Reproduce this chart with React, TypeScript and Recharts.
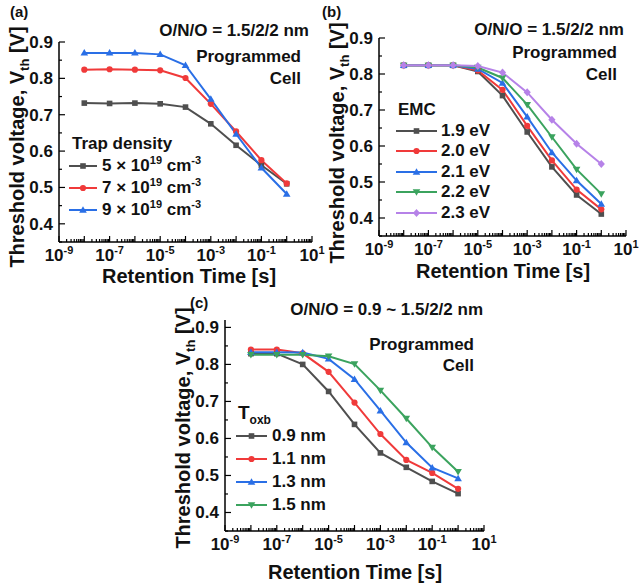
import React from "react";
import { LineChart, Line, XAxis, YAxis, Legend } from "recharts";

const FONT = "'Liberation Sans', Arial, sans-serif";

// retention times shared by all three panels [s]
const retentionTimes = [1e-8, 1e-7, 1e-6, 1e-5, 1e-4, 1e-3, 1e-2, 1e-1, 1];

// axis ticks
const xMajorTicks = [1e-9, 1e-8, 1e-7, 1e-6, 1e-5, 1e-4, 1e-3, 1e-2, 1e-1, 1, 10];
const xLabelExps = [-9, -7, -5, -3, -1, 1];
const yMajorTicks = [0.4, 0.5, 0.6, 0.7, 0.8, 0.9];
const yMinorTicks = [0.35, 0.45, 0.55, 0.65, 0.75, 0.85];

// (a) trap density
const trapDensities = ["5", "7", "9"];
const trap5 = [0.732, 0.731, 0.732, 0.73, 0.721, 0.675, 0.616, 0.561, 0.51];
const trap7 = [0.824, 0.825, 0.824, 0.822, 0.801, 0.73, 0.654, 0.575, 0.511];
const trap9 = [0.87, 0.87, 0.87, 0.866, 0.836, 0.743, 0.647, 0.554, 0.482];

// (b) EMC
const emcLabels = ["1.9 eV", "2.0 eV", "2.1 eV", "2.2 eV", "2.3 eV"];
const emc19 = [0.824, 0.824, 0.824, 0.807, 0.74, 0.639, 0.542, 0.464, 0.411];
const emc20 = [0.824, 0.824, 0.824, 0.81, 0.756, 0.656, 0.56, 0.479, 0.424];
const emc21 = [0.824, 0.824, 0.824, 0.814, 0.775, 0.681, 0.582, 0.504, 0.439];
const emc22 = [0.824, 0.824, 0.824, 0.818, 0.789, 0.715, 0.625, 0.535, 0.467];
const emc23 = [0.824, 0.824, 0.824, 0.822, 0.804, 0.749, 0.673, 0.606, 0.55];

// (c) bottom oxide thickness
const toxbLabels = ["0.9 nm", "1.1 nm", "1.3 nm", "1.5 nm"];
const tox09 = [0.829, 0.829, 0.8, 0.727, 0.638, 0.561, 0.522, 0.484, 0.451];
const tox11 = [0.84, 0.84, 0.83, 0.78, 0.697, 0.612, 0.542, 0.507, 0.464];
const tox13 = [0.833, 0.833, 0.832, 0.815, 0.76, 0.675, 0.589, 0.521, 0.492];
const tox15 = [0.826, 0.826, 0.826, 0.822, 0.801, 0.73, 0.654, 0.576, 0.51];

const GRAY = "#4f4f4f";
const RED = "#f03a3a";
const BLUE = "#2a6fe6";
const GREEN = "#3ba35e";
const PURPLE = "#b682e8";

// log minor ticks (2..9 x 10^k) for the frame
const xMinorTicks: number[] = [];
xMajorTicks.slice(0, -1).forEach((d) => {
  for (let m = 2; m <= 9; m++) xMinorTicks.push(m * d);
});
const xTicks = [...xMajorTicks, ...xMinorTicks];

type Shape = "square" | "circle" | "triUp" | "triDown" | "diamond";

type Series = {
  key: string;
  label: React.ReactNode;
  color: string;
  shape: Shape;
  values: number[];
};

function Marker({ shape, cx, cy, color }: { shape: Shape; cx: number; cy: number; color: string }) {
  if (cx == null || cy == null) return null;
  switch (shape) {
    case "square":
      return <rect x={cx - 2.8} y={cy - 2.8} width={5.6} height={5.6} fill={color} />;
    case "circle":
      return <circle cx={cx} cy={cy} r={3.1} fill={color} />;
    case "triUp":
      return <polygon points={`${cx},${cy - 3.8} ${cx + 3.8},${cy + 2.7} ${cx - 3.8},${cy + 2.7}`} fill={color} />;
    case "triDown":
      return <polygon points={`${cx},${cy + 3.8} ${cx + 3.8},${cy - 2.7} ${cx - 3.8},${cy - 2.7}`} fill={color} />;
    default:
      return <polygon points={`${cx},${cy - 4} ${cx + 3.6},${cy} ${cx},${cy + 4} ${cx - 3.6},${cy}`} fill={color} />;
  }
}

const isMajorX = (v: number) => {
  const e = Math.round(Math.log10(v));
  return Math.abs(v / Math.pow(10, e) - 1) < 1e-6;
};
const isMajorY = (v: number) => Math.abs(v * 10 - Math.round(v * 10)) < 1e-6;

function XTickBottom(props: any) {
  const { x, y, payload } = props;
  const v = payload.value;
  const major = isMajorX(v);
  const e = Math.round(Math.log10(v));
  return (
    <g>
      <line x1={x} x2={x} y1={y} y2={y - (major ? 6 : 3)} stroke="#000" strokeWidth={1.2} />
      {major && xLabelExps.includes(e) && (
        <text x={x} y={y + 19} textAnchor="middle" fontSize={17} fontWeight="bold" fontFamily={FONT} fill="#111">
          10
          <tspan dy={-7} fontSize={11}>
            {e}
          </tspan>
        </text>
      )}
    </g>
  );
}

function XTickTop(props: any) {
  const { x, y, payload } = props;
  const major = isMajorX(payload.value);
  return <line x1={x} x2={x} y1={y} y2={y + (major ? 6 : 3)} stroke="#000" strokeWidth={1.2} />;
}

function YTickLeft(props: any) {
  const { x, y, payload } = props;
  const v = payload.value;
  const major = isMajorY(v);
  return (
    <g>
      <line x1={x} x2={x + (major ? 6 : 3)} y1={y} y2={y} stroke="#000" strokeWidth={1.2} />
      {major && (
        <text x={x - 6} y={y + 6} textAnchor="end" fontSize={17} fontWeight="bold" fontFamily={FONT} fill="#111">
          {v.toFixed(1)}
        </text>
      )}
    </g>
  );
}

function YTickRight(props: any) {
  const { x, y, payload } = props;
  const major = isMajorY(payload.value);
  return <line x1={x} x2={x - (major ? 6 : 3)} y1={y} y2={y} stroke="#000" strokeWidth={1.2} />;
}

const sup = (s: string) => (
  <span style={{ fontSize: 11, position: "relative", top: -7 }}>{s}</span>
);

function LegendBox({
  title,
  series,
  rowH,
  sampleLen,
  gap,
  titlePad,
}: {
  title: React.ReactNode;
  series: Series[];
  rowH: number;
  sampleLen: number;
  gap: number;
  titlePad: number;
}) {
  return (
    <div style={{ fontFamily: FONT, fontWeight: "bold", fontSize: 17, color: "#111", lineHeight: `${rowH}px` }}>
      <div style={{ height: rowH, paddingLeft: titlePad, whiteSpace: "nowrap" }}>{title}</div>
      {series.map((s) => (
        <div key={s.key} style={{ display: "flex", alignItems: "center", height: rowH, whiteSpace: "nowrap" }}>
          <svg width={sampleLen} height={10} style={{ marginRight: gap, flex: "none" }}>
            <line x1={0} x2={sampleLen} y1={5} y2={5} stroke={s.color} strokeWidth={2} />
            <Marker shape={s.shape} cx={sampleLen / 2} cy={5} color={s.color} />
          </svg>
          <span>{s.label}</span>
        </div>
      ))}
    </div>
  );
}

type PanelCfg = {
  left: number;
  top: number;
  width: number;
  height: number;
  margin: { top: number; right: number; bottom: number; left: number };
  yAxisWidth: number;
  xAxisHeight: number;
  yDomain: [number, number];
  series: Series[];
  legendTitle: React.ReactNode;
  legendLeft: number;
  legendTop: number;
  rowH: number;
  sampleLen: number;
  gap: number;
  titlePad: number;
};

function Panel({ cfg }: { cfg: PanelCfg }) {
  const data = retentionTimes.map((t, i) => {
    const row: Record<string, number> = { t };
    cfg.series.forEach((s) => (row[s.key] = s.values[i]));
    return row;
  });
  const yTicks = [...yMajorTicks, ...yMinorTicks].filter((v) => v >= cfg.yDomain[0] - 1e-9 && v <= cfg.yDomain[1] + 1e-9);
  const frame = { stroke: "#000", strokeWidth: 1.5 };
  return (
    <div style={{ position: "absolute", left: cfg.left, top: cfg.top }}>
      <LineChart width={cfg.width} height={cfg.height} data={data} margin={cfg.margin}>
        <XAxis
          xAxisId="b"
          dataKey="t"
          type="number"
          scale="log"
          domain={[1e-9, 10]}
          allowDataOverflow
          ticks={xTicks}
          interval={0}
          tickSize={0}
          tickMargin={0}
          tickLine={false}
          tick={XTickBottom}
          height={cfg.xAxisHeight}
          axisLine={frame}
        />
        <XAxis
          xAxisId="t"
          orientation="top"
          dataKey="t"
          type="number"
          scale="log"
          domain={[1e-9, 10]}
          allowDataOverflow
          ticks={xTicks}
          interval={0}
          tickSize={0}
          tickMargin={0}
          tickLine={false}
          tick={XTickTop}
          height={0}
          axisLine={frame}
        />
        <YAxis
          yAxisId="l"
          type="number"
          domain={cfg.yDomain}
          allowDataOverflow
          ticks={yTicks}
          interval={0}
          tickSize={0}
          tickMargin={0}
          tickLine={false}
          tick={YTickLeft}
          width={cfg.yAxisWidth}
          axisLine={frame}
        />
        <YAxis
          yAxisId="r"
          orientation="right"
          type="number"
          domain={cfg.yDomain}
          allowDataOverflow
          ticks={yTicks}
          interval={0}
          tickSize={0}
          tickMargin={0}
          tickLine={false}
          tick={YTickRight}
          width={0}
          axisLine={frame}
        />
        <Legend
          layout="vertical"
          align="center"
          verticalAlign="middle"
          wrapperStyle={{ left: cfg.legendLeft, top: cfg.legendTop, width: "auto", height: "auto" }}
          content={() => (
            <LegendBox
              title={cfg.legendTitle}
              series={cfg.series}
              rowH={cfg.rowH}
              sampleLen={cfg.sampleLen}
              gap={cfg.gap}
              titlePad={cfg.titlePad}
            />
          )}
        />
        {cfg.series.map((s) => (
          <Line
            key={s.key}
            xAxisId="b"
            yAxisId="l"
            type="linear"
            dataKey={s.key}
            stroke={s.color}
            strokeWidth={2}
            dot={(p: any) => <Marker key={`${s.key}-${p.index}`} shape={s.shape} cx={p.cx} cy={p.cy} color={s.color} />}
            activeDot={false}
            isAnimationActive={false}
          />
        ))}
      </LineChart>
    </div>
  );
}

const seriesA: Series[] = [
  { key: "d5", color: GRAY, shape: "square" as Shape, values: trap5 },
  { key: "d7", color: RED, shape: "circle" as Shape, values: trap7 },
  { key: "d9", color: BLUE, shape: "triUp" as Shape, values: trap9 },
].map((s, i) => ({
  ...s,
  label: (
    <>
      {trapDensities[i]} × 10{sup("19")} cm{sup("-3")}
    </>
  ),
}));

const seriesB: Series[] = [
  { key: "e19", color: GRAY, shape: "square" as Shape, values: emc19 },
  { key: "e20", color: RED, shape: "circle" as Shape, values: emc20 },
  { key: "e21", color: BLUE, shape: "triUp" as Shape, values: emc21 },
  { key: "e22", color: GREEN, shape: "triDown" as Shape, values: emc22 },
  { key: "e23", color: PURPLE, shape: "diamond" as Shape, values: emc23 },
].map((s, i) => ({ ...s, label: emcLabels[i] }));

const seriesC: Series[] = [
  { key: "t09", color: GRAY, shape: "square" as Shape, values: tox09 },
  { key: "t11", color: RED, shape: "circle" as Shape, values: tox11 },
  { key: "t13", color: BLUE, shape: "triUp" as Shape, values: tox13 },
  { key: "t15", color: GREEN, shape: "triDown" as Shape, values: tox15 },
].map((s, i) => ({ ...s, label: toxbLabels[i] }));

// panel (a) svg is a little wider than its box so the 10^1 label is not clipped
const panelA: PanelCfg = {
  left: 0,
  top: 0,
  width: 334,
  height: 290,
  margin: { top: 42, right: 22, bottom: 0, left: 0 },
  yAxisWidth: 59,
  xAxisHeight: 48,
  yDomain: [0.35, 0.9],
  series: seriesA,
  legendTitle: "Trap density",
  legendLeft: 69,
  legendTop: 133,
  rowH: 22,
  sampleLen: 28,
  gap: 5,
  titlePad: 3,
};

const panelB: PanelCfg = {
  left: 320,
  top: 0,
  width: 321,
  height: 290,
  margin: { top: 38, right: 15, bottom: 0, left: 0 },
  yAxisWidth: 59,
  xAxisHeight: 54,
  yDomain: [0.35, 0.9],
  series: seriesB,
  legendTitle: "EMC",
  legendLeft: 76,
  legendTop: 100,
  rowH: 20.5,
  sampleLen: 41,
  gap: 4,
  titlePad: 2,
};

const panelC: PanelCfg = {
  left: 160,
  top: 295,
  width: 340,
  height: 293,
  margin: { top: 25, right: 16, bottom: 0, left: 0 },
  yAxisWidth: 65,
  xAxisHeight: 57,
  yDomain: [0.35, 0.92],
  series: seriesC,
  legendTitle: (
    <span style={{ fontSize: 19 }}>
      T<span style={{ fontSize: 12, position: "relative", top: 5 }}>oxb</span>
    </span>
  ),
  legendLeft: 76,
  legendTop: 106,
  rowH: 23,
  sampleLen: 31,
  gap: 5,
  titlePad: 2,
};

const txt: React.CSSProperties = {
  position: "absolute",
  fontFamily: FONT,
  fontWeight: "bold",
  color: "#111",
  whiteSpace: "nowrap",
  lineHeight: "20px",
  height: 20,
};

// text right-aligned at x=right, vertically centred at cy
function RightText({ right, cy, size = 17, children }: { right: number; cy: number; size?: number; children: React.ReactNode }) {
  return (
    <div style={{ ...txt, left: right - 400, width: 400, top: cy - 10, textAlign: "right", fontSize: size }}>{children}</div>
  );
}

function LeftText({ left, cy, size = 15, children }: { left: number; cy: number; size?: number; children: React.ReactNode }) {
  return <div style={{ ...txt, left, top: cy - 10, fontSize: size }}>{children}</div>;
}

function CenterText({ cx, cy, size = 20, rotate = false, children }: { cx: number; cy: number; size?: number; rotate?: boolean; children: React.ReactNode }) {
  return (
    <div
      style={{
        ...txt,
        left: cx - 160,
        width: 320,
        top: cy - 12,
        height: 24,
        lineHeight: "24px",
        textAlign: "center",
        fontSize: size,
        transform: rotate ? "rotate(-90deg)" : undefined,
      }}
    >
      {children}
    </div>
  );
}

const yTitle = (
  <>
    Threshold voltage, V<span style={{ fontSize: 13, position: "relative", top: 5 }}>th</span> [V]
  </>
);

export default function App() {
  return (
    <div style={{ position: "absolute", left: 0, top: 0, width: 641, height: 588, background: "#fff", overflow: "hidden" }}>
      <Panel cfg={panelA} />
      <Panel cfg={panelB} />
      <Panel cfg={panelC} />

      <LeftText left={10} cy={12}>(a)</LeftText>
      <LeftText left={322} cy={12}>(b)</LeftText>
      <LeftText left={190} cy={303}>(c)</LeftText>

      <RightText right={309} cy={31}>O/N/O = 1.5/2/2 nm</RightText>
      <RightText right={624} cy={30}>O/N/O = 1.5/2/2 nm</RightText>
      <RightText right={483} cy={310}>O/N/O = 0.9 ~ 1.5/2/2 nm</RightText>

      <RightText right={301} cy={57}>Programmed</RightText>
      <RightText right={301} cy={79}>Cell</RightText>
      <RightText right={617} cy={53}>Programmed</RightText>
      <RightText right={617} cy={75}>Cell</RightText>
      <RightText right={474} cy={345}>Programmed</RightText>
      <RightText right={474} cy={366}>Cell</RightText>

      <CenterText cx={17} cy={147} rotate>{yTitle}</CenterText>
      <CenterText cx={337} cy={143} rotate>{yTitle}</CenterText>
      <CenterText cx={183} cy={428} rotate>{yTitle}</CenterText>

      <CenterText cx={189} cy={276}>Retention Time [s]</CenterText>
      <CenterText cx={503} cy={271}>Retention Time [s]</CenterText>
      <CenterText cx={355} cy={572}>Retention Time [s]</CenterText>
    </div>
  );
}
